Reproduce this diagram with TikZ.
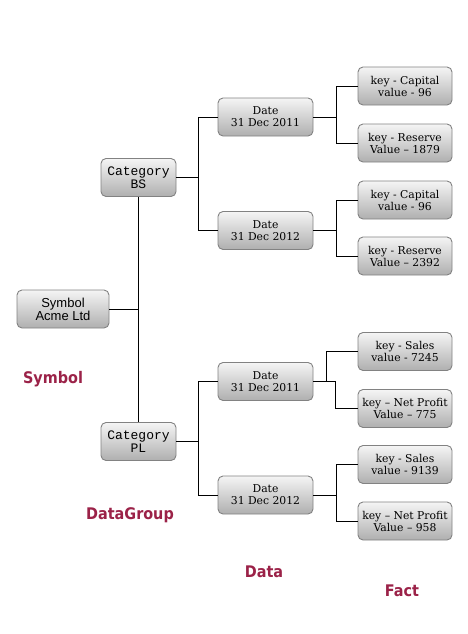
\documentclass[tikz,border=0pt]{standalone}
\usepackage{fontspec}
\setmainfont{DejaVu Serif}
\newfontfamily\labfont{DejaVu Sans Condensed Bold}
\newfontfamily\symfont{Liberation Sans}
\newfontfamily\catfont{Liberation Mono}
\definecolor{lab}{RGB}{155,34,72}
\definecolor{bord}{RGB}{130,130,130}
\definecolor{boxbot}{RGB}{175,175,175}
\begin{document}
\begin{tikzpicture}[x=1pt,y=-1pt,
  box/.style={draw=bord,line width=0.9pt,rounded corners=5pt,top color=white!96!black,bottom color=boxbot,
    inner sep=0pt,align=center},
  symbox/.style={box,minimum width=92pt,minimum height=38pt,font=\symfont\fontsize{13}{13}\selectfont},
  catbox/.style={box,minimum width=75pt,minimum height=38pt,font=\catfont\fontsize{13}{13}\selectfont},
  datebox/.style={box,minimum width=95pt,minimum height=38pt,font=\fontsize{10.8}{12}\selectfont},
  factbox/.style={box,minimum width=94pt,minimum height=38pt,font=\fontsize{10.8}{12}\selectfont},
  lbl/.style={text=lab,font=\labfont\fontsize{16}{18}\selectfont},
  conn/.style={line width=1pt,black}]
\useasboundingbox (0,0) rectangle (468,634);
% nodes
\node[symbox] (sym) at (63,309) {Symbol\\Acme Ltd};
\node[catbox] (cbs) at (138.5,177.5) {Category\\BS};
\node[catbox] (cpl) at (138.5,441.5) {Category\\PL};
\node[datebox] (d1) at (265.5,117) {Date\\31 Dec 2011};
\node[datebox] (d2) at (265.5,230.5) {Date\\31 Dec 2012};
\node[datebox] (d3) at (265.5,381.5) {Date\\31 Dec 2011};
\node[datebox] (d4) at (265.5,495) {Date\\31 Dec 2012};
\node[factbox] (f1) at (405,86) {key - Capital\\value - 96};
\node[factbox] (f2) at (405,143) {key - Reserve\\Value -- 1879};
\node[factbox] (f3) at (405,200) {key - Capital\\value - 96};
\node[factbox] (f4) at (405,256) {key - Reserve\\Value -- 2392};
\node[factbox] (f5) at (405,351.5) {key - Sales\\value - 7245};
\node[factbox] (f6) at (405,408.5) {key -- Net Profit\\Value -- 775};
\node[factbox] (f7) at (405,464.5) {key - Sales\\value - 9139};
\node[factbox] (f8) at (405,521) {key -- Net Profit\\Value -- 958};
% labels
\node[lbl] (lsym) at (53,379) {Symbol};
\node[lbl] (ldg) at (130,515) {DataGroup};
\node[lbl] (ldata) at (264,572) {Data};
\node[lbl] (lfact) at (402,591) {Fact};
% junctions
\coordinate (jsym) at (138,309);
\coordinate (jbs) at (198,177.5);
\coordinate (jpl) at (198,441.5);
\coordinate (j1) at (336,117);
\coordinate (j2) at (336,230.5);
\coordinate (j3a) at (326,381.5);
\coordinate (j3b) at (335.5,381.5);
\coordinate (j4) at (336,495);
% connectors
\draw[conn] (sym.east) -- (jsym);
\draw[conn] (cbs.south -| jsym) -- (cpl.north -| jsym);
\draw[conn] (cbs.east) -- (jbs) |- (d1.west);
\draw[conn] (jbs) |- (d2.west);
\draw[conn] (cpl.east) -- (jpl) |- (d3.west);
\draw[conn] (jpl) |- (d4.west);
\draw[conn] (d1.east) -- (j1) |- (f1.west);
\draw[conn] (j1) |- (f2.west);
\draw[conn] (d2.east) -- (j2) |- (f3.west);
\draw[conn] (j2) |- (f4.west);
\draw[conn] (d3.east) -- (j3a) |- (f5.west);
\draw[conn] (j3a) -- (j3b) |- (f6.west);
\draw[conn] (d4.east) -- (j4) |- (f7.west);
\draw[conn] (j4) |- (f8.west);
\end{tikzpicture}
\end{document}
